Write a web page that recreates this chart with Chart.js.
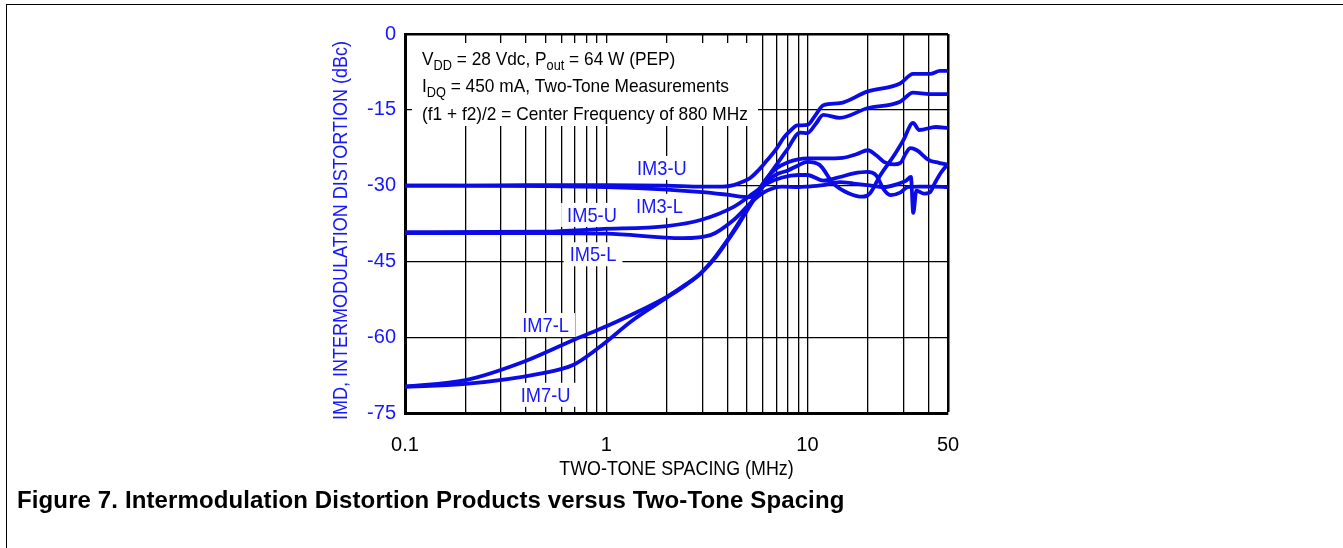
<!DOCTYPE html>
<html>
<head>
<meta charset="utf-8">
<script src="https://cdn.jsdelivr.net/npm/chart.js@4.4.1/dist/chart.umd.min.js"></script>
<style>
html, body { margin: 0; padding: 0; background: #fff; }
#wrap { position: relative; width: 1343px; height: 548px; overflow: hidden; }
#frame { position: absolute; left: 6px; top: 4px; width: 1400px; height: 600px; border-top: 1.5px solid #000; border-left: 1.5px solid #000; }
#chart { position: absolute; left: 0; top: 0; }
#caption { position: absolute; left: 17px; top: 486px; font: bold 24px "Liberation Sans", Arial, sans-serif; letter-spacing: 0.12px; color: #000; white-space: nowrap; }
</style>
</head>
<body>
<div id="wrap">
  <div id="frame"></div>
  <canvas id="chart" width="1343" height="548"></canvas>
  <div id="caption">Figure 7. Intermodulation Distortion Products versus Two-Tone Spacing</div>
</div>
<script>
const FONT = '"Liberation Sans", Arial, sans-serif';
const TEXT_BLUE = '#1717ff';
const LINE_BLUE = '#0b0be6';

// axis ticks
const freqGrid = [0.1, 0.2, 0.3, 0.4, 0.5, 0.6, 0.7, 0.8, 0.9, 1, 2, 3, 4, 5, 6, 7, 8, 9, 10, 20, 30, 40, 50];
const freqLabelled = [0.1, 1, 10, 50];
const imdTicks = [0, -15, -30, -45, -60, -75];

// series: [two-tone spacing MHz, IMD dBc]
const im3U = [[0.1, -30], [0.2, -30], [0.4, -29.9], [1, -29.9], [2, -30], [3, -30.2], [3.8, -30.2], [4.3, -29.9],
  [4.8, -29.2], [5.2, -28.5], [5.7, -27], [6.3, -25], [7, -22.8], [7.6, -20.6], [8.3, -19], [8.9, -18.1], [10, -18],
  [11, -16], [12, -14.1], [14.5, -13.7], [19.8, -11.4], [28.9, -9.8], [33.5, -7.9], [40.7, -7.9], [45.6, -7.3], [50, -7.3]];
const im3L = [[0.1, -30], [0.5, -30.1], [1, -30.3], [2, -30.8], [3, -31.3], [4, -31.8], [5.2, -32.3], [5.7, -31],
  [6.3, -28.5], [7.1, -25.6], [7.9, -23], [9.2, -19.5], [10, -19.6], [11, -17.8], [12, -16], [14.5, -16.6],
  [19.8, -14.7], [28.9, -13.4], [33.5, -11.6], [40.7, -11.9], [50, -11.9]];
const im5U = [[0.1, -39.2], [0.5, -39.1], [0.93, -38.6], [2, -38], [2.95, -36.8], [4.3, -34.2], [5.4, -31.5],
  [6.3, -29.6], [7.5, -28.4], [9, -27.9], [10, -27.9], [12, -29], [14.5, -28.3], [17, -27.6], [19.8, -27.3],
  [22, -28], [24, -30.8], [26, -31.9], [28.9, -31.4], [31.5, -30.3], [36, -30.2], [42, -30.2], [50, -30.3]];
const im5L = [[0.1, -39.4], [0.5, -39.4], [1, -39.5], [2.4, -40.4], [3.3, -39.8], [4.3, -36.8], [5.4, -32.9],
  [6.3, -31], [7.5, -30.2], [9, -30.3], [10, -30.2], [12, -29.9], [14.5, -29.3], [17, -29.6], [19.8, -29.9],
  [24, -30.3], [28, -29.7], [31, -29], [32.7, -28.3], [33.6, -35.4], [34.8, -31], [38, -31.6], [40.7, -31.3],
  [43, -29.5], [46, -27.5], [50, -25.7]];
const im7L = [[0.1, -69.8], [0.2, -68.5], [0.386, -64.9], [0.684, -60.6], [0.93, -58.4], [1.36, -55.4], [2, -52],
  [2.5, -49.5], [2.95, -47.3], [3.5, -44], [4, -40.8], [4.5, -37.7], [5, -34.8], [5.7, -31], [6.3, -28.5], [7, -26.6],
  [8, -25.4], [9, -24.8], [10, -24.6], [12, -24.6], [15, -24.5], [17.5, -23.8], [20, -23], [22, -24], [24, -25.3],
  [27, -25.8], [29, -25.5], [31, -23.5], [32.5, -22.6], [35, -23], [40, -24.9], [45, -25.5], [50, -25.9]];
const im7U = [[0.1, -69.8], [0.194, -69.3], [0.485, -67.1], [0.684, -65.5], [0.93, -61.9], [1.36, -56.6], [2, -52.2],
  [2.5, -49.6], [2.95, -47.4], [3.5, -44.2], [4, -41], [4.5, -38], [5, -35], [5.7, -31.5], [6.3, -29.2], [7, -27.8],
  [8, -27], [9, -26], [10, -25.3], [11.5, -25.9], [13.4, -29.5], [16, -31.5], [18.8, -32.2], [20.5, -31.5],
  [23, -28], [27, -24], [30, -21], [33.5, -17.6], [36, -19], [43.5, -18.4], [50, -18.6]];

const curveNotes = [
  { text: 'IM3-U', f: 1.89, db: -26.5 },
  { text: 'IM3-L', f: 1.84, db: -34 },
  { text: 'IM5-U', f: 0.85, db: -35.8 },
  { text: 'IM5-L', f: 0.86, db: -43.6 },
  { text: 'IM7-L', f: 0.50, db: -57.6 },
  { text: 'IM7-U', f: 0.50, db: -71.4 }
];

const series = [im3U, im3L, im5U, im5L, im7L, im7U];

// draw text squeezed horizontally (the original uses a condensed face)
function narrow(ctx, text, x, y, sx, rot) {
  ctx.save();
  ctx.translate(x, y);
  if (rot) ctx.rotate(rot);
  ctx.scale(sx, 1);
  ctx.fillText(text, 0, 0);
  ctx.restore();
}

const notesPlugin = {
  id: 'notes',
  beforeDatasetsDraw(chart) {
    const { ctx, chartArea: a, scales: { x, y } } = chart;
    ctx.save();
    // condition box
    ctx.fillStyle = '#fff';
    ctx.fillRect(a.left + 7, a.top + 9, 346, 83);
    ctx.fillStyle = '#000';
    ctx.textAlign = 'left';
    ctx.textBaseline = 'alphabetic';
    const sx = 0.91;
    const big = '19px ' + FONT, small = '14px ' + FONT;
    function line(parts, x0, base) {
      let cx = x0;
      parts.forEach(p => {
        ctx.font = p[1] ? small : big;
        narrow(ctx, p[0], cx, base + (p[1] ? 5 : 0), sx);
        cx += ctx.measureText(p[0]).width * sx;
      });
    }
    line([['V'], ['DD', 1], [' = 28 Vdc, P'], ['out', 1], [' = 64 W (PEP)']], a.left + 17, a.top + 31);
    line([['I'], ['DQ', 1], [' = 450 mA, Two-Tone Measurements']], a.left + 17, a.top + 58);
    line([['(f1 + f2)/2 = Center Frequency of 880 MHz']], a.left + 17, a.top + 86);

    // curve labels
    ctx.font = '21px ' + FONT;
    ctx.textAlign = 'center';
    ctx.textBaseline = 'middle';
    curveNotes.forEach(n => {
      const px = x.getPixelForValue(n.f), py = y.getPixelForValue(n.db);
      const w = ctx.measureText(n.text).width * 0.87;
      ctx.fillStyle = '#fff';
      ctx.fillRect(px - w / 2 - 6, py - 12, w + 12, 24);
      ctx.fillStyle = TEXT_BLUE;
      narrow(ctx, n.text, px, py + 1, 0.87);
    });
    ctx.restore();
  },
  afterDraw(chart) {
    const { ctx, chartArea: a } = chart;
    ctx.save();
    ctx.textAlign = 'center';
    ctx.textBaseline = 'middle';
    ctx.fillStyle = '#000';
    ctx.font = '21px ' + FONT;
    narrow(ctx, 'TWO-TONE SPACING (MHz)', (a.left + a.right) / 2, a.bottom + 56, 0.85);
    ctx.fillStyle = TEXT_BLUE;
    ctx.font = '20px ' + FONT;
    narrow(ctx, 'IMD, INTERMODULATION DISTORTION (dBc)', a.left - 64, (a.top + a.bottom) / 2 + 7, 0.9, -Math.PI / 2);
    ctx.restore();
  }
};

new Chart(document.getElementById('chart'), {
  type: 'line',
  data: {
    datasets: series.map(s => ({
      data: s.map(p => ({ x: p[0], y: p[1] })),
      borderColor: LINE_BLUE,
      borderWidth: 3.8,
      pointRadius: 0,
      fill: false,
      cubicInterpolationMode: 'monotone'
    }))
  },
  options: {
    responsive: false,
    animation: false,
    layout: { padding: { left: 330, right: 395, top: 34, bottom: 65 } },
    plugins: { legend: { display: false }, tooltip: { enabled: false } },
    scales: {
      x: {
        type: 'logarithmic',
        min: 0.1,
        max: 50,
        afterBuildTicks: s => { s.ticks = freqGrid.map(v => ({ value: v })); },
        afterFit: s => { s.height = 70; },
        ticks: {
          autoSkip: false,
          maxRotation: 0,
          padding: 20,
          color: '#000',
          font: { family: FONT, size: 20 },
          callback: v => freqLabelled.includes(v) ? String(v) : ''
        },
        grid: {
          color: '#000',
          drawTicks: false,
          lineWidth: c => (c.tick && c.tick.value === 50) ? 2.5 : 1.3
        },
        border: { color: '#000', width: 3 }
      },
      y: {
        min: -75,
        max: 0,
        afterBuildTicks: s => { s.ticks = imdTicks.map(v => ({ value: v })); },
        afterFit: s => { s.width = 75; },
        ticks: {
          padding: 9,
          color: TEXT_BLUE,
          font: { family: FONT, size: 20 }
        },
        grid: {
          color: '#000',
          drawTicks: false,
          lineWidth: c => (c.tick && c.tick.value === 0) ? 2.5 : 1.3
        },
        border: { color: '#000', width: 3 }
      }
    }
  },
  plugins: [notesPlugin]
});
</script>
</body>
</html>
